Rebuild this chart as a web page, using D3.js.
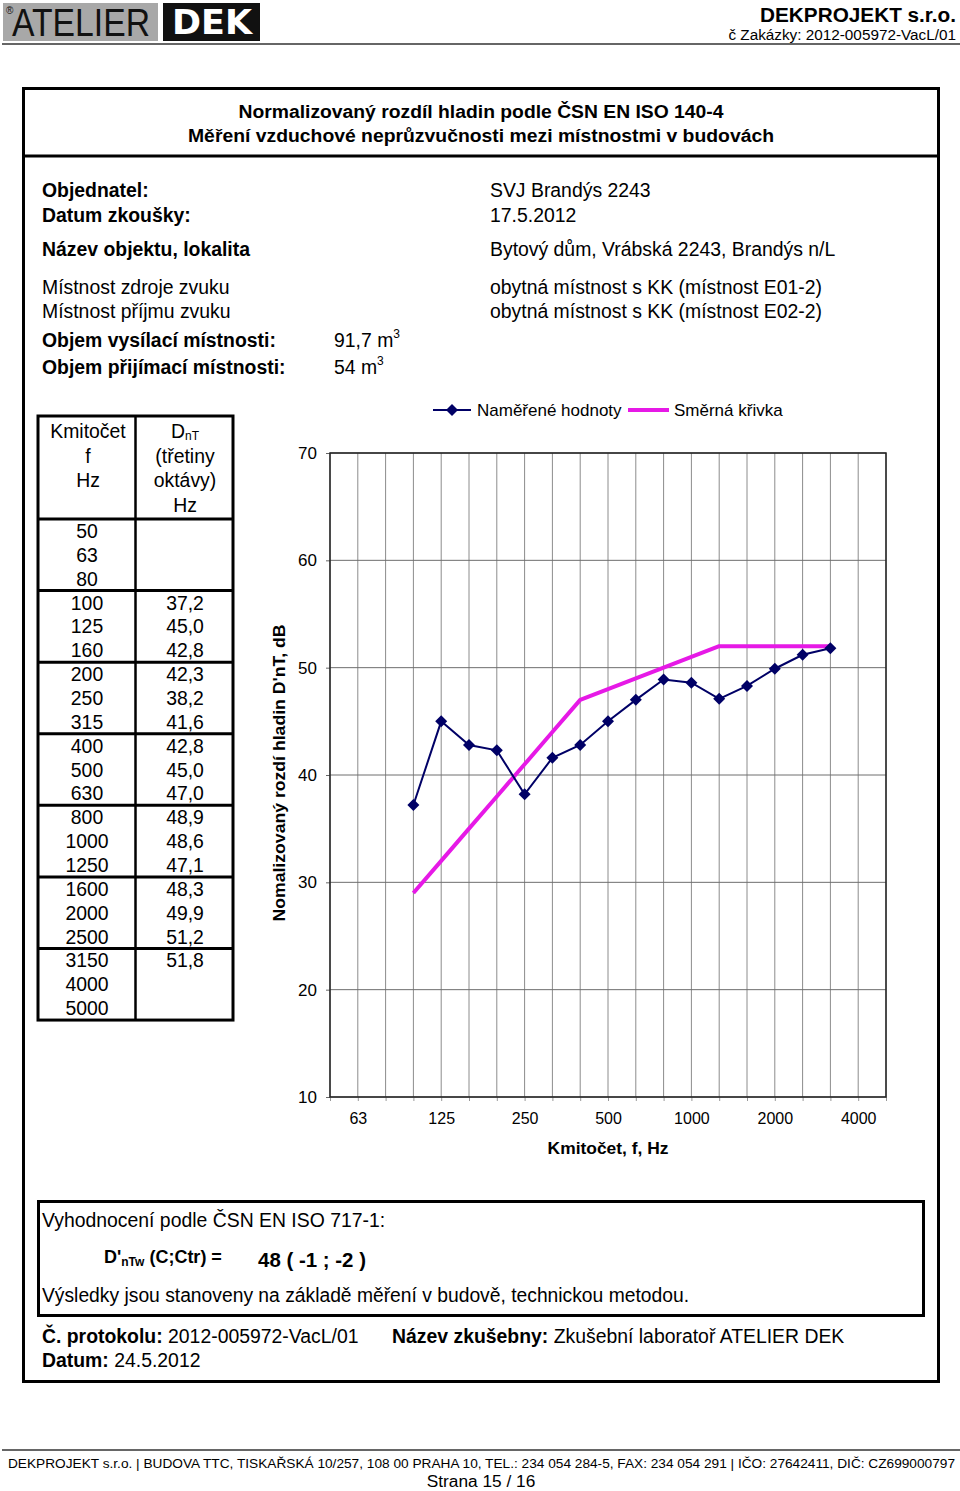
<!DOCTYPE html>
<html><head><meta charset="utf-8">
<script src="https://cdn.jsdelivr.net/npm/d3@7"></script>
<style>
html,body{margin:0;padding:0;background:#fff;}
svg{display:block;font-family:"Liberation Sans",Arial,Helvetica,sans-serif;}
</style></head>
<body>
<svg id="page" width="960" height="1491"></svg>
<script>
// ---------- DATA ----------
const frequencies = ["50","63","80","100","125","160","200","250","315","400","500","630","800","1000","1250","1600","2000","2500","3150","4000","5000"];
const measured = [null,null,null,37.2,45.0,42.8,42.3,38.2,41.6,42.8,45.0,47.0,48.9,48.6,47.1,48.3,49.9,51.2,51.8,null,null];
const referenceCurve = [null,null,null,29,32,35,38,41,44,47,48,49,50,51,52,52,52,52,52,null,null];
const yTicks = [10,20,30,40,50,60,70];
const xTickLabels = ["63","125","250","500","1000","2000","4000"];
const seriesNames = ["Naměřené hodnoty","Směrná křivka"];

const svg = d3.select("#page");
const F = "Liberation Sans, Arial, sans-serif";
const FS = 19.4;

function txt(x, y, s, o = {}) {
  const t = svg.append("text").attr("x", x).attr("y", y)
    .attr("font-size", o.size || FS)
    .attr("font-weight", o.bold ? "bold" : "normal")
    .attr("text-anchor", o.anchor || "start")
    .attr("fill", o.fill || "#000");
  if (o.len) t.attr("textLength", o.len).attr("lengthAdjust", "spacingAndGlyphs");
  t.text(s);
  return t;
}

// ---------- HEADER ----------
svg.append("rect").attr("x", 3).attr("y", 3).attr("width", 155).attr("height", 38).attr("fill", "#a8a8a8");
txt(12, 36, "ATELIER", {size: 38, fill: "#111", len: 138}).attr("font-weight", 300).attr("font-family", "DejaVu Sans ExtraLight, Liberation Sans, sans-serif");
txt(6, 14, "®", {size: 10, fill: "#111"});
svg.append("rect").attr("x", 163).attr("y", 3).attr("width", 97).attr("height", 38).attr("fill", "#111");
txt(212, 34, "DEK", {size: 34, bold: true, fill: "#fff", anchor: "middle", len: 80}).attr("font-family", "DejaVu Sans, sans-serif");
svg.append("line").attr("x1", 2).attr("x2", 960).attr("y1", 44).attr("y2", 44).attr("stroke", "#333").attr("stroke-width", 1.5);
txt(956, 22, "DEKPROJEKT s.r.o.", {size: 20, bold: true, anchor: "end", len: 196});
txt(956, 40, "č Zakázky: 2012-005972-VacL/01", {size: 15.3, anchor: "end"});

// ---------- MAIN BOX ----------
svg.append("rect").attr("x", 23.5).attr("y", 88.5).attr("width", 915).attr("height", 1293)
  .attr("fill", "none").attr("stroke", "#000").attr("stroke-width", 3);
svg.append("line").attr("x1", 23).attr("x2", 939).attr("y1", 156).attr("y2", 156).attr("stroke", "#000").attr("stroke-width", 3);
txt(481, 118, "Normalizovaný rozdíl hladin podle ČSN EN ISO 140-4", {size: 18, bold: true, anchor: "middle", len: 485});
txt(481, 142, "Měření vzduchové neprůzvučnosti mezi místnostmi v budovách", {size: 18, bold: true, anchor: "middle", len: 586});

// info rows
txt(42, 197, "Objednatel:", {bold: true});
txt(490, 197, "SVJ Brandýs 2243");
txt(42, 222, "Datum zkoušky:", {bold: true});
txt(490, 222, "17.5.2012");
txt(42, 256, "Název objektu, lokalita", {bold: true});
txt(490, 256, "Bytový dům, Vrábská 2243, Brandýs n/L");
txt(42, 294, "Místnost zdroje zvuku");
txt(490, 294, "obytná místnost s KK (místnost E01-2)");
txt(42, 318, "Místnost příjmu zvuku");
txt(490, 318, "obytná místnost s KK (místnost E02-2)");
txt(42, 347, "Objem vysílací místnosti:", {bold: true});
const v1 = txt(334, 347, "91,7 m");
v1.append("tspan").attr("font-size", 12).attr("dy", -9).text("3");
txt(42, 374, "Objem přijímací místnosti:", {bold: true});
const v2 = txt(334, 374, "54 m");
v2.append("tspan").attr("font-size", 12).attr("dy", -9).text("3");

// ---------- TABLE ----------
const tX0 = 38, tX1 = 233, tXd = 135.5, tY0 = 416, tHead = 519, rowH = 23.86;
const tY1 = tHead + rowH * frequencies.length;
svg.append("rect").attr("x", tX0).attr("y", tY0).attr("width", tX1 - tX0).attr("height", tY1 - tY0)
  .attr("fill", "none").attr("stroke", "#000").attr("stroke-width", 3);
svg.append("line").attr("x1", tXd).attr("x2", tXd).attr("y1", tY0).attr("y2", tY1).attr("stroke", "#000").attr("stroke-width", 2.5);
svg.append("line").attr("x1", tX0).attr("x2", tX1).attr("y1", tHead).attr("y2", tHead).attr("stroke", "#000").attr("stroke-width", 3);
for (let g = 3; g < frequencies.length; g += 3) {
  const yy = tHead + g * rowH;
  svg.append("line").attr("x1", tX0).attr("x2", tX1).attr("y1", yy).attr("y2", yy).attr("stroke", "#000").attr("stroke-width", 3);
}
txt(88, 438, "Kmitočet", {anchor: "middle"});
txt(88, 463, "f", {anchor: "middle"});
txt(88, 487, "Hz", {anchor: "middle"});
const dh = txt(185, 438, "D", {anchor: "middle"});
dh.append("tspan").attr("font-size", 12).attr("dy", 2).text("nT");
txt(185, 463, "(třetiny", {anchor: "middle"});
txt(185, 487, "oktávy)", {anchor: "middle"});
txt(185, 512, "Hz", {anchor: "middle"});
frequencies.forEach((f, i) => {
  const yy = tHead + i * rowH + rowH / 2 + 7;
  txt(87, yy, f, {anchor: "middle"});
  if (measured[i] != null) txt(185, yy, measured[i].toFixed(1).replace(".", ","), {anchor: "middle"});
});

// ---------- CHART ----------
const pl = 330, pr = 886, pt = 453, pb = 1097;
const x = d3.scalePoint().domain(frequencies).range([pl, pr]).padding(0);
const y = d3.scaleLinear().domain([10, 70]).range([pb, pt]);
const chart = svg.append("g");

// grid
chart.append("g").selectAll("line").data(frequencies).join("line")
  .attr("x1", d => x(d)).attr("x2", d => x(d)).attr("y1", pt).attr("y2", pb)
  .attr("stroke", "#8c8c8c").attr("stroke-width", 1);
chart.append("g").selectAll("line").data(yTicks).join("line")
  .attr("x1", pl).attr("x2", pr).attr("y1", d => y(d)).attr("y2", d => y(d))
  .attr("stroke", "#6e6e6e").attr("stroke-width", 1);

// axes
const yAxis = chart.append("g").attr("transform", `translate(${pl},0)`)
  .call(d3.axisLeft(y).tickValues(yTicks).tickSize(4).tickPadding(9).tickFormat(d3.format("d")));
yAxis.select(".domain").remove();
yAxis.selectAll("line").attr("stroke", "#666");
yAxis.selectAll("text").attr("font-size", 17).attr("font-family", F).attr("fill", "#000");

const xAxis = chart.append("g").attr("transform", `translate(0,${pb})`)
  .call(d3.axisBottom(x).tickSize(4).tickPadding(12).tickFormat(d => xTickLabels.includes(d) ? d : ""));
xAxis.select(".domain").remove();
xAxis.selectAll("line").attr("stroke", "#999");
xAxis.selectAll("text").attr("font-size", 16).attr("font-family", F).attr("fill", "#000");

chart.append("rect").attr("x", pl).attr("y", pt).attr("width", pr - pl).attr("height", pb - pt)
  .attr("fill", "none").attr("stroke", "#222").attr("stroke-width", 1.5);

// reference curve
const refData = frequencies.map((f, i) => ({f, v: referenceCurve[i]})).filter(d => d.v != null);
chart.append("path").datum(refData)
  .attr("d", d3.line().x(d => x(d.f)).y(d => y(d.v)))
  .attr("fill", "none").attr("stroke", "#e619e6").attr("stroke-width", 4).attr("stroke-linejoin", "round");

// measured
const mData = frequencies.map((f, i) => ({f, v: measured[i]})).filter(d => d.v != null);
chart.append("path").datum(mData)
  .attr("d", d3.line().x(d => x(d.f)).y(d => y(d.v)))
  .attr("fill", "none").attr("stroke", "#000066").attr("stroke-width", 2);
const diamond = d3.symbol().type(d3.symbolSquare).size(72);
chart.append("g").selectAll("path").data(mData).join("path")
  .attr("transform", d => `translate(${x(d.f)},${y(d.v)}) rotate(45)`)
  .attr("d", diamond).attr("fill", "#000066");

// axis titles
txt(608, 1154, "Kmitočet, f, Hz", {size: 17.4, bold: true, anchor: "middle"});
txt(0, 0, "Nomalizovaný rozdí hladin D'nT, dB", {size: 17, bold: true, anchor: "middle", len: 297})
  .attr("transform", "translate(285,773) rotate(-90)");

// legend
svg.append("line").attr("x1", 433).attr("x2", 471).attr("y1", 410).attr("y2", 410).attr("stroke", "#000066").attr("stroke-width", 2);
svg.append("path").attr("transform", "translate(452,410) rotate(45)").attr("d", diamond).attr("fill", "#000066");
txt(477, 416, seriesNames[0], {size: 17});
svg.append("line").attr("x1", 628).attr("x2", 669).attr("y1", 410).attr("y2", 410).attr("stroke", "#e619e6").attr("stroke-width", 4);
txt(674, 416, seriesNames[1], {size: 17});

// ---------- EVALUATION BOX ----------
svg.append("rect").attr("x", 38.5).attr("y", 1201.5).attr("width", 885).attr("height", 114)
  .attr("fill", "none").attr("stroke", "#000").attr("stroke-width", 3);
txt(42, 1227, "Vyhodnocení podle ČSN EN ISO 717-1:");
const dw = txt(104, 1263, "D'", {bold: true, size: 18});
dw.append("tspan").attr("font-size", 12).attr("dy", 3).text("nTw");
dw.append("tspan").attr("dy", -3).text(" (C;Ctr) =");
txt(258, 1267, "48 ( -1 ; -2 )", {bold: true, len: 108});
txt(42, 1302, "Výsledky jsou stanoveny na základě měření v budově, technickou metodou.", {len: 647});

const p1 = txt(42, 1343, "Č. protokolu: ", {bold: true});
p1.append("tspan").attr("font-weight", "normal").text("2012-005972-VacL/01");
const p2 = txt(392, 1343, "Název zkušebny: ", {bold: true});
p2.append("tspan").attr("font-weight", "normal").text("Zkušební laboratoř ATELIER DEK");
const p3 = txt(42, 1367, "Datum: ", {bold: true});
p3.append("tspan").attr("font-weight", "normal").text("24.5.2012");

// ---------- FOOTER ----------
svg.append("line").attr("x1", 2).attr("x2", 960).attr("y1", 1450).attr("y2", 1450).attr("stroke", "#333").attr("stroke-width", 1.5);
txt(8, 1468, "DEKPROJEKT s.r.o. | BUDOVA TTC, TISKAŘSKÁ 10/257, 108 00  PRAHA 10, TEL.: 234 054 284-5, FAX: 234 054 291 | IČO: 27642411, DIČ: CZ699000797", {size: 13, len: 947});
txt(481, 1487, "Strana 15 / 16", {size: 17.3, anchor: "middle"});
</script>
</body></html>
